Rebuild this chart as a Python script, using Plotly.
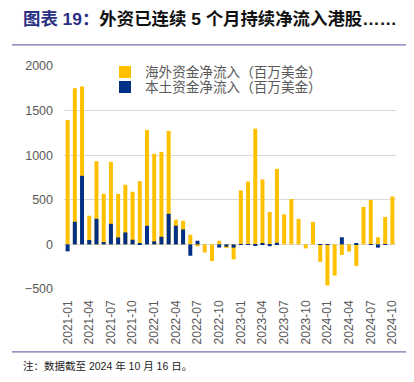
import plotly.graph_objects as go

months = [
    "2021-01", "2021-02", "2021-03", "2021-04", "2021-05", "2021-06",
    "2021-07", "2021-08", "2021-09", "2021-10", "2021-11", "2021-12",
    "2022-01", "2022-02", "2022-03", "2022-04", "2022-05", "2022-06",
    "2022-07", "2022-08", "2022-09", "2022-10", "2022-11", "2022-12",
    "2023-01", "2023-02", "2023-03", "2023-04", "2023-05", "2023-06",
    "2023-07", "2023-08", "2023-09", "2023-10", "2023-11", "2023-12",
    "2024-01", "2024-02", "2024-03", "2024-04", "2024-05", "2024-06",
    "2024-07", "2024-08", "2024-09", "2024-10",
]

overseas = [1395, 1750, 1769, 321, 933, 567, 925, 567, 668, 590, 709, 1283,
            1015, 1037, 1272, 276, 265, 108, -22, -90, -187, 41, -41, -168,
            605, 705, 1298, 728, 365, 847, 336, 509, 286, -45, 252, -196,
            -461, -349, -118, -80, -241, 420, 498, 80, 308, 537]

domestic = [-78, 254, 769, 49, 287, 26, 231, 78, 134, 52, 8, 209,
            34, 86, 343, 209, 168, -127, 41, 0, 0, -35, -25, -36,
            3, 3, -15, 10, -20, 18, 0, 0, 0, 0, 0, -5,
            -5, 0, 80, 0, 16, 0, -5, -36, -5, 0]

name_overseas = "海外资金净流入（百万美金）"
name_domestic = "本土资金净流入（百万美金）"

title_prefix = "图表 19："
title_text = "外资已连续 5 个月持续净流入港股……"
note_text = "注：数据截至 2024 年 10 月 16 日。"

y_ticks = [-500, 0, 500, 1000, 1500, 2000]

YELLOW = "#FFC000"
NAVY = "#002F86"
GRID = "#D9D9D9"
TXT = "#595959"
CJK = "Noto Sans CJK SC"
LAT = "Liberation Sans, Arial"
MIX = "Liberation Sans, Noto Sans CJK SC"

# page is offset by the default 8px body margin
OFF = 8
W, H = 406, 374
# desired plot area in page pixels
P_L, P_R, P_T, P_B = 64, 396, 65.7, 289.5
L, T = P_L - OFF, P_T - OFF
R, B = W - (P_R - OFF), H - (P_B - OFF)
pw, ph = W - L - R, H - T - B


def px_x(x):
    return (x - OFF - L) / pw


def px_y(y):
    return (H - B - (y - OFF)) / ph


fig = go.Figure()
fig.add_trace(go.Bar(x=months, y=overseas, name=name_overseas, legend="legend",
                     marker=dict(color=YELLOW, line=dict(width=0)), width=0.55))
fig.add_trace(go.Bar(x=months, y=domestic, name=name_domestic, legend="legend2",
                     marker=dict(color=NAVY, line=dict(width=0)), width=0.55))

leg_common = dict(
    xanchor="left", yanchor="middle",
    bgcolor="rgba(0,0,0,0)",
    font=dict(family=MIX, size=13.6, color=TXT),
    itemwidth=30,
)

fig.update_layout(
    width=W, height=H,
    margin=dict(l=L, r=R, t=T, b=B, pad=0),
    paper_bgcolor="white", plot_bgcolor="white",
    barmode="overlay",
    showlegend=True,
    legend=dict(x=px_x(105), y=px_y(72), **leg_common),
    legend2=dict(x=px_x(105), y=px_y(87), **leg_common),
    xaxis=dict(
        type="category",
        tickmode="array", tickvals=months[::3], ticktext=months[::3],
        tickangle=-90,
        tickfont=dict(family=LAT, size=12, color=TXT),
        showgrid=False, showline=False, ticks="",
        ticklabelstandoff=8,
        range=[-0.5, len(months) - 0.5],
    ),
    yaxis=dict(
        range=[-500, 2000],
        tickmode="array", tickvals=y_ticks,
        tickfont=dict(family=LAT, size=12.5, color=TXT),
        showgrid=True, gridcolor=GRID, gridwidth=1,
        zeroline=True, zerolinecolor=GRID, zerolinewidth=1,
        showline=False, ticks="",
        ticklabelstandoff=10,
    ),
    font=dict(family=CJK),
)

fig.add_annotation(
    xref="paper", yref="paper", x=px_x(22), y=px_y(18.8),
    xanchor="left", yanchor="middle", showarrow=False, borderpad=0,
    text="<b><span style='color:#2B2F84'>" + title_prefix + "</span>" + title_text + "</b>",
    font=dict(family=MIX, size=17.4, color="#111111"),
)

fig.add_annotation(
    xref="paper", yref="paper", x=px_x(21), y=px_y(367),
    xanchor="left", yanchor="middle", showarrow=False,
    text=note_text,
    font=dict(family=MIX, size=10.5, color="#222222"),
)

for yy in (44.5, 352.7):
    fig.add_shape(type="line", xref="paper", yref="paper",
                  x0=px_x(12), x1=px_x(410), y0=px_y(yy), y1=px_y(yy),
                  line=dict(color="#7373B3", width=1.2))

fig.write_html("out.html")
